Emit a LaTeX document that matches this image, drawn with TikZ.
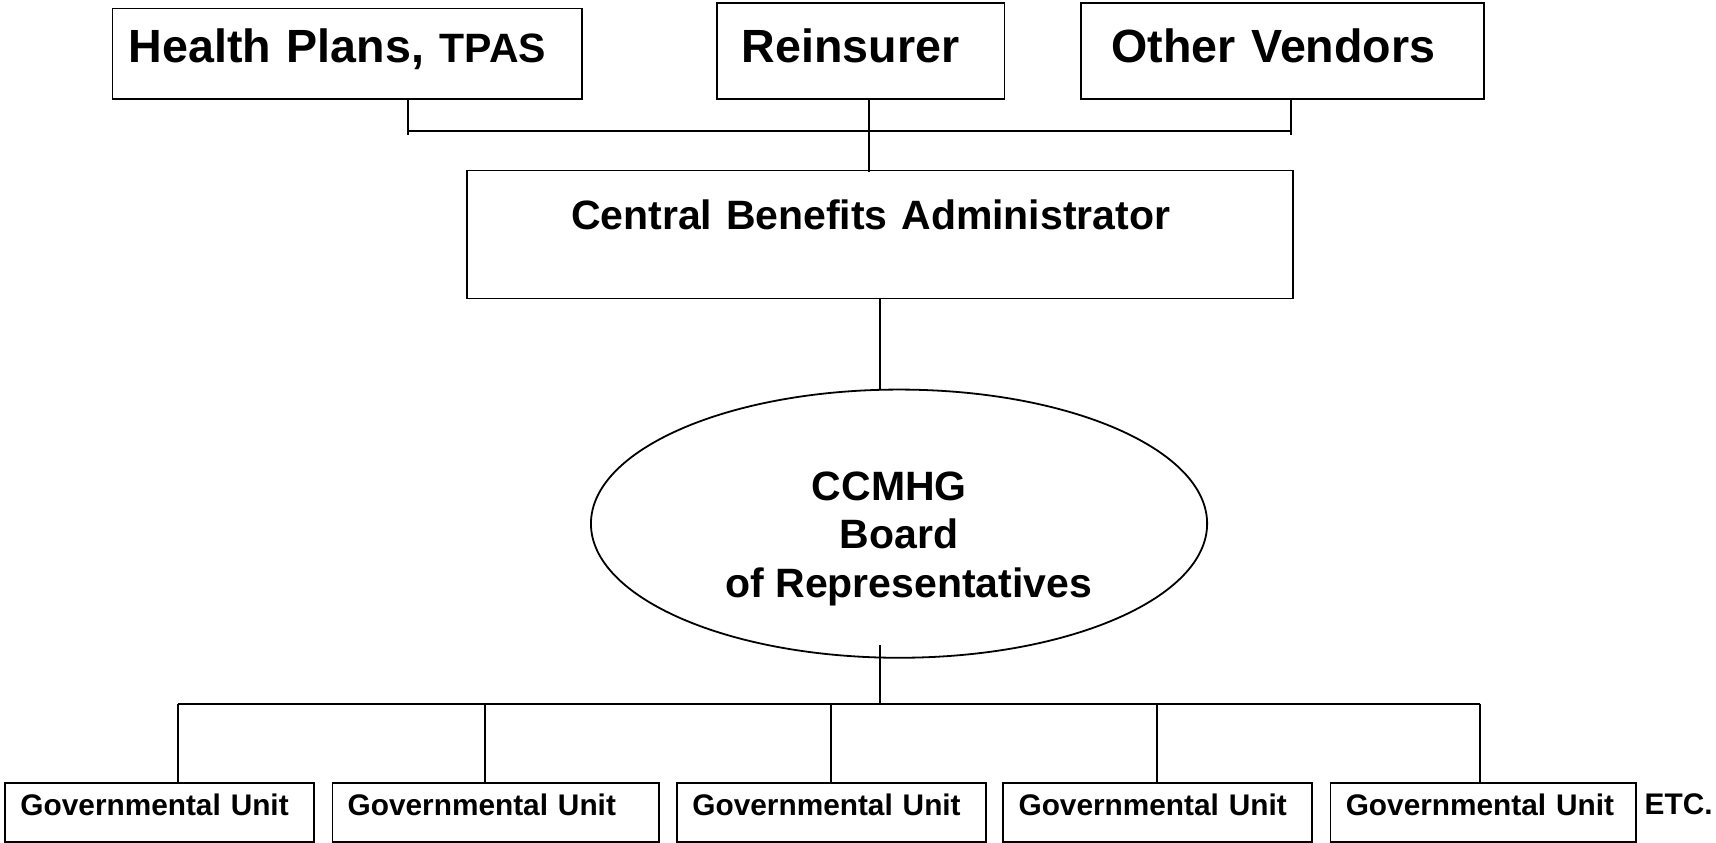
\documentclass[tikz,border=0pt]{standalone}
\usepackage{fontspec}
\setmainfont{Liberation Sans}
\usepackage{tikz}
\usetikzlibrary{shapes.geometric}

\begin{document}
\begin{tikzpicture}
        [x=0.5472pt,y=-0.5472pt,line width=0.9pt,
         topbox/.style={rectangle,draw=black,anchor=north west,align=left,
           inner ysep=0pt,text depth=18.6pt,font=\fontsize{23.3}{28}\selectfont\bfseries},
         unitbox/.style={rectangle,draw=black,anchor=north west,align=left,
           inner xsep=7.6pt,inner ysep=0pt,text height=15.9pt,text depth=13.4pt,
           font=\fontsize{14.9}{18}\selectfont\bfseries}]
        \useasboundingbox (0,0) rectangle (1568,769.4);

        \node [topbox,name=hp,inner xsep=8.2pt,text width=218.3pt,text height=26.8pt] at (102,7)
              {Health Plans, {\fontsize{20.5}{24}\selectfont TPAS}};
        \node [topbox,name=re,inner xsep=12.6pt,text width=118.7pt,text height=29.5pt] at (654,2)
              {Reinsurer};
        \node [topbox,name=ov,inner xsep=15.3pt,text width=170.8pt,text height=29.5pt] at (987,2)
              {Other Vendors};
        \node [topbox,name=cba,inner xsep=52pt,text width=309.1pt,text height=29.5pt,text depth=34.5pt,
               font=\fontsize{20.5}{24}\selectfont\bfseries] at (426,155)
              {Central Benefits Administrator};

        \node [ellipse,draw=black,name=board,minimum width=308.1pt,minimum height=134.1pt,inner sep=0pt]
              at (821.5,478.5) {};
        \node [name=boardtext,align=center,yshift=-7.5pt,font=\fontsize{20.5}{24.2}\selectfont\bfseries]
              at (board.center)
              {CCMHG\hspace*{9.8pt}\\Board\hspace*{6.6pt}\\\hspace*{9.8pt}of Representatives};

        \foreach \i/\x/\w in {1/4/139.1,2/303/147.9,3/618/139.1,4/916/139.1,5/1215/137.5}
              \node [unitbox,name=gu\i,text width=\w pt] at (\x,715) {Governmental Unit};
        \node [name=etc,anchor=base west,inner sep=0pt,font=\fontsize{14.9}{18}\selectfont\bfseries]
              at (1502,744) {ETC.};

        \coordinate (tw) at (373,120);
        \coordinate (te) at (1180,120);
        \coordinate (rx) at (794,120);
        \coordinate (cx) at (804,643);
        \foreach \i/\x in {1/163,2/443,3/759,4/1057,5/1352}
              \coordinate (bus\i) at (\x,643);

        \path[-] (hp.south -| tw) edge ([yshift=-1.6pt]tw)
              (ov.south -| te) edge ([yshift=-1.6pt]te)
              (tw) edge (te)
              ([yshift=1pt]re.south -| rx) edge ([yshift=-1pt]cba.north -| rx)
              (cba.south -| cx) edge (board.north -| cx)
              ([yshift=6.6pt]board.south -| cx) edge (cx)
              (bus1) edge (bus5);
        \foreach \i in {1,...,5}
              \draw (bus\i) -- (gu\i.north -| bus\i);
    \end{tikzpicture}
\end{document}
